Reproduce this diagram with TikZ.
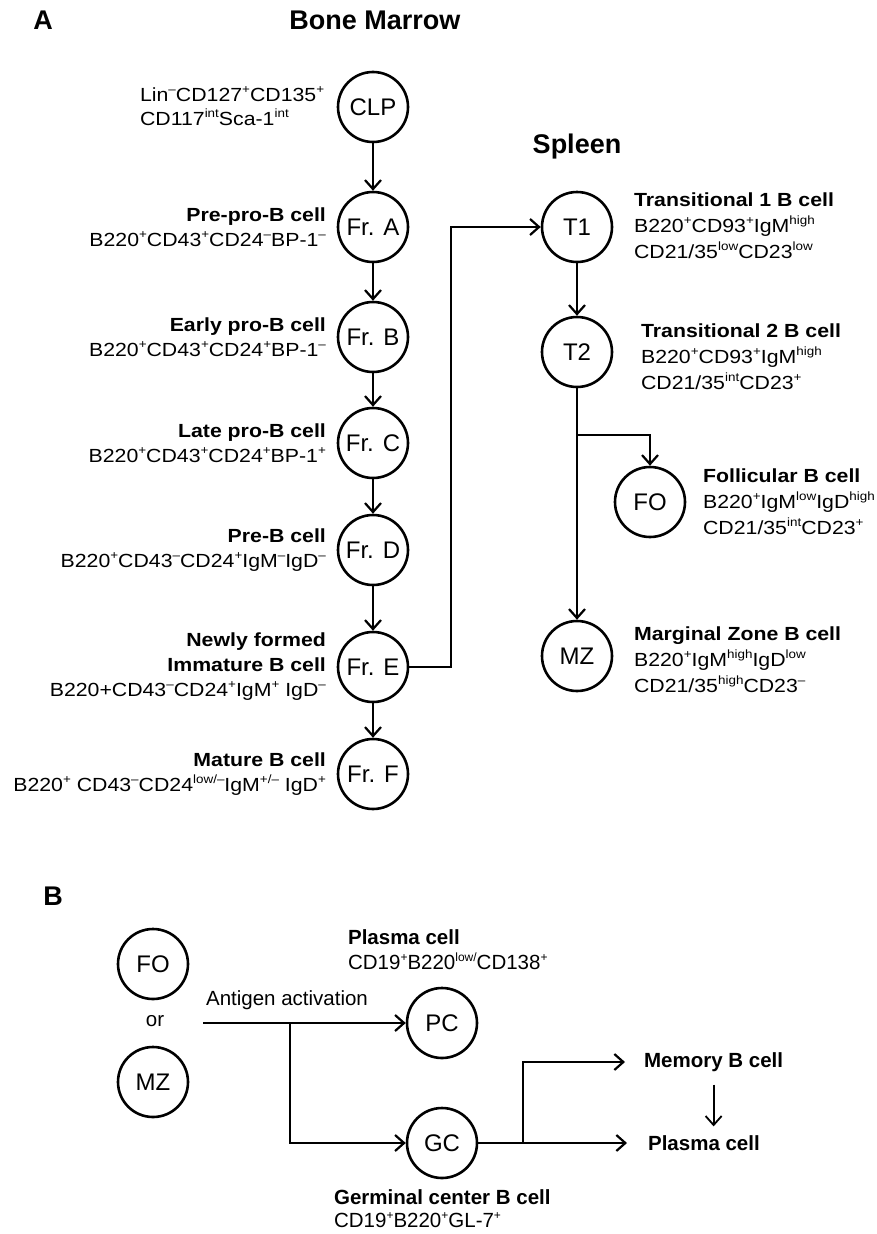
\documentclass[tikz,border=0pt]{standalone}
\usepackage{fontspec}
\setmainfont{Liberation Sans}[FakeStretch=1.12]
\newfontfamily\cellfont{Liberation Sans}
\usetikzlibrary{arrows.meta}
\newcommand{\spx}[1]{\raisebox{0.42em}{\fontsize{12}{12}\selectfont #1}}

\begin{document}
\begin{tikzpicture}[
    x = 1pt, y = -1pt,
    line width = 2.2pt,
    cell/.style = {draw, circle, line width = 2.6pt, minimum size = 70pt, inner sep = 0pt,
        font = \cellfont\fontsize{24}{24}\selectfont},
    desc/.style = {inner sep = 0pt, font = \fontsize{19}{25}\selectfont},
    descl/.style = {desc, align = right, anchor = east},
    descr/.style = {desc, align = left, anchor = west, font = \fontsize{19}{26}\selectfont},
    descb/.style = {inner sep = 0pt, align = left, anchor = west,
        font = \cellfont\fontsize{20.5}{25}\selectfont},
    title/.style = {font = \cellfont\bfseries\fontsize{27}{27}\selectfont},
    flow/.style = {-{Straight Barb[length = 9pt, width = 16pt]}}]

\useasboundingbox (0,0) rectangle (877,1234);

\node[title] (lblA) at (43,20) {A};
\node[title] (bonemarrow) at (375,20) {Bone Marrow};
\node[title] (spleen) at (577,147) {Spleen};

\node[cell] (CLP) at (373,107) {CLP};
\node[cell] (FrA) at (373,227) {Fr. A};
\node[cell] (FrB) at (373,337) {Fr. B};
\node[cell] (FrC) at (373,443) {Fr. C};
\node[cell] (FrD) at (373,550) {Fr. D};
\node[cell] (FrE) at (373,667) {Fr. E};
\node[cell] (FrF) at (373,774) {Fr. F};
\node[cell] (T1) at (577,227) {T1};
\node[cell] (T2) at (577,352) {T2};
\node[cell] (FO) at (650,502) {FO};
\node[cell] (MZ) at (577,656) {MZ};

\node[desc, align = left, anchor = west, font = \fontsize{19}{24}\selectfont] (lCLP) at (139,106)
    {Lin\spx{–}CD127\spx{+}CD135\spx{+}\\CD117\spx{int}Sca-1\spx{int}};
\node[descl] (lFrA) at (327,227)
    {\textbf{Pre-pro-B cell}\\B220\spx{+}CD43\spx{+}CD24\spx{–}BP-1\spx{–}};
\node[descl] (lFrB) at (327,337)
    {\textbf{Early pro-B cell}\\B220\spx{+}CD43\spx{+}CD24\spx{+}BP-1\spx{–}};
\node[descl] (lFrC) at (327,443)
    {\textbf{Late pro-B cell}\\B220\spx{+}CD43\spx{+}CD24\spx{+}BP-1\spx{+}};
\node[descl] (lFrD) at (327,550)
    {\textbf{Pre-B cell}\\B220\spx{+}CD43\spx{–}CD24\spx{+}IgM\spx{–}IgD\spx{–}};
\node[descl] (lFrE) at (327,667)
    {\textbf{Newly formed}\\\textbf{Immature B cell}\\B220+CD43\spx{–}CD24\spx{+}IgM\spx{+} IgD\spx{–}};
\node[descl] (lFrF) at (327,774)
    {\textbf{Mature B cell}\\B220\spx{+} CD43\spx{–}CD24\spx{low/–}IgM\spx{+/–} IgD\spx{+}};

\node[descr] (lT1) at (633,226)
    {\textbf{Transitional 1 B cell}\\B220\spx{+}CD93\spx{+}IgM\spx{high}\\CD21/35\spx{low}CD23\spx{low}};
\node[descr] (lT2) at (640,357)
    {\textbf{Transitional 2 B cell}\\B220\spx{+}CD93\spx{+}IgM\spx{high}\\CD21/35\spx{int}CD23\spx{+}};
\node[descr] (lFO) at (702,502)
    {\textbf{Follicular B cell}\\B220\spx{+}IgM\spx{low}IgD\spx{high}\\CD21/35\spx{int}CD23\spx{+}};
\node[descr] (lMZ) at (633,660)
    {\textbf{Marginal Zone B cell}\\B220\spx{+}IgM\spx{high}IgD\spx{low}\\CD21/35\spx{high}CD23\spx{–}};

\draw[flow] (CLP.south) -- (FrA.north);
\draw[flow] (FrA.south) -- (FrB.north);
\draw[flow] (FrB.south) -- (FrC.north);
\draw[flow] (FrC.south) -- (FrD.north);
\draw[flow] (FrD.south) -- (FrE.north);
\draw[flow] (FrE.south) -- (FrF.north);
\draw[flow] (FrE.east) -- ++(42,0) |- (T1.west);
\draw[flow] (T1.south) -- (T2.north);
\draw[flow] (T2.south) -- (MZ.north);
\coordinate (split) at (577,435);
\draw[flow] (split) -| (FO.north);

\node[title] (lblB) at (53,896) {B};
\node[cell] (FOb) at (153,964) {FO};
\node[cell] (MZb) at (153,1082) {MZ};
\node[descb, anchor = center] (or) at (155,1021) {or};
\node[cell] (PC) at (442,1023) {PC};
\node[cell] (GC) at (442,1143) {GC};
\node[descb] (antigen) at (205,1000) {Antigen activation};
\node[descb] (lPC) at (347,950) {\textbf{Plasma cell}\\CD19\spx{+}B220\spx{low/}CD138\spx{+}};
\node[descb, font = \cellfont\fontsize{20.5}{23}\selectfont] (lGC) at (333,1209)
    {\textbf{Germinal center B cell}\\CD19\spx{+}B220\spx{+}GL-7\spx{+}};
\node[descb, font = \cellfont\bfseries\fontsize{20.5}{25}\selectfont] (memory) at (643,1062) {Memory B cell};
\node[descb, font = \cellfont\bfseries\fontsize{20.5}{25}\selectfont] (plasma) at (647,1143) {Plasma cell};

\coordinate (ag) at (203,1023);
\coordinate (agsplit) at (290,1023);
\coordinate (gcsplit) at (523,1143);
\draw[flow] (ag) -- (PC.west);
\draw[flow] (agsplit) |- (GC.west);
\draw[flow, shorten >= 20pt] (GC.east) -- (plasma.west);
\draw[flow, shorten >= 18pt] (gcsplit) |- (memory.west);
\draw[flow, line width = 1.8pt, shorten <= 12pt, shorten >= 8pt] (memory.south) -- (memory.south |- plasma.north);
\end{tikzpicture}
\end{document}
